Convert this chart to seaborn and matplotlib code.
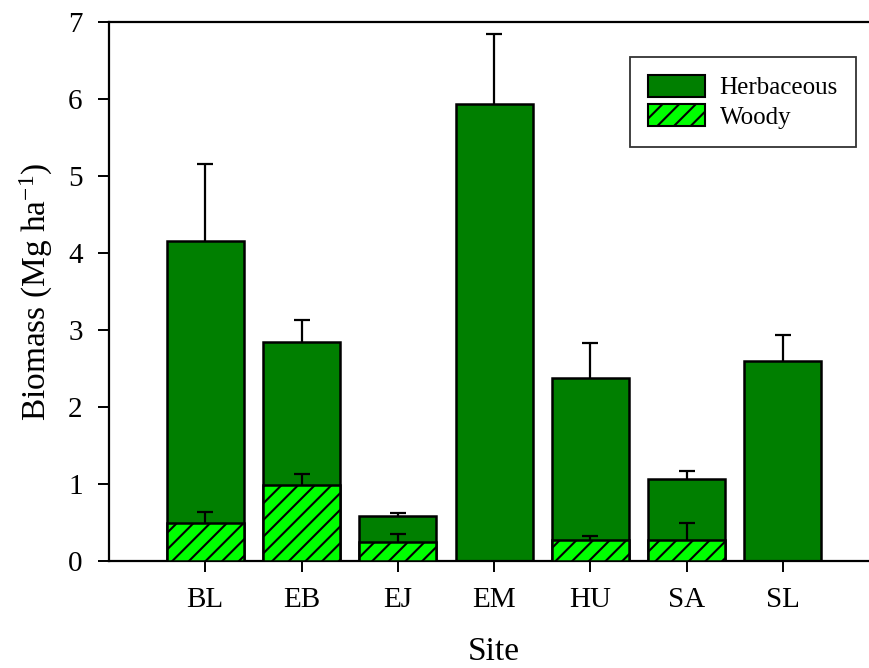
import numpy as np
import pandas as pd
import matplotlib
matplotlib.use("Agg")
import matplotlib.pyplot as plt
from matplotlib.patches import Patch
import seaborn as sns

sites = ["BL", "EB", "EJ", "EM", "HU", "SA", "SL"]
herbaceous = [3.66, 1.86, 0.33, 5.93, 2.11, 0.80, 2.60]
herbaceous_se = [0.99, 0.28, 0.04, 0.92, 0.45, 0.10, 0.34]
woody = [0.50, 0.99, 0.25, 0.0, 0.27, 0.27, 0.0]
woody_se = [0.14, 0.14, 0.10, 0.0, 0.05, 0.22, 0.0]
y_ticks = [0, 1, 2, 3, 4, 5, 6, 7]

sns.set_theme(style="ticks")
plt.rcParams["font.family"] = ["Liberation Serif", "DejaVu Serif"]
plt.rcParams["mathtext.fontset"] = "custom"
plt.rcParams["mathtext.rm"] = "Liberation Serif"
plt.rcParams["mathtext.it"] = "Liberation Serif:italic"
plt.rcParams["mathtext.bf"] = "Liberation Serif:bold"
plt.rcParams["text.color"] = "black"
plt.rcParams["axes.labelcolor"] = "black"
plt.rcParams["xtick.color"] = "black"
plt.rcParams["ytick.color"] = "black"
plt.rcParams["hatch.linewidth"] = 1.5
plt.rcParams["hatch.color"] = "black"

DARK = "#007f00"
LIGHT = "#00ff00"

df = pd.DataFrame({
    "Site": sites,
    "total": np.add(herbaceous, woody),
    "total_se": herbaceous_se,
    "woody": woody,
    "woody_se": woody_se,
})


def upper_errorbar(ax, x, y, err, z):
    """Draw upper-only error bars (stem plus a single top cap)."""
    _, caps, _ = ax.errorbar(x, y, yerr=[np.zeros(len(x)), err],
                             fmt="none", ecolor="black", elinewidth=1.6,
                             capsize=6, capthick=1.6, zorder=z)
    caps[0].remove()


fig = plt.figure(figsize=(8.70, 6.68), dpi=100)
ax = fig.add_axes([109 / 870, 107 / 668, 770 / 870, 539 / 668])

# herbaceous sits on top of woody: draw the full stack first
sns.barplot(data=df, x="Site", y="total", color=DARK, saturation=1,
            width=0.8, edgecolor="black", linewidth=1.8, ax=ax, errorbar=None,
            zorder=2)
upper_errorbar(ax, np.arange(len(sites)), df["total"], df["total_se"], 1)

n_before = len(ax.patches)
sns.barplot(data=df, x="Site", y="woody", color=LIGHT, saturation=1,
            width=0.8, edgecolor="black", linewidth=1.8, ax=ax, errorbar=None,
            hatch="//")
for p in ax.patches[n_before:]:
    p.set_zorder(4)
has_woody = df["woody"].to_numpy() > 0
idx = np.arange(len(sites))[has_woody]
upper_errorbar(ax, idx, df["woody"][has_woody], df["woody_se"][has_woody], 3)

ax.set_xlim(-1, 7)
ax.set_ylim(0, 7)
ax.set_yticks(y_ticks)
ax.set_xlabel("Site", fontsize=24, labelpad=17)
ax.set_ylabel("Biomass (Mg ha$^{-1}$)", fontsize=24, labelpad=9)
ax.tick_params(axis="both", labelsize=21, direction="out", length=8,
               width=1.4, color="black", pad=11)
for s in ax.spines.values():
    s.set_linewidth(1.6)
    s.set_color("black")

handles = [
    Patch(facecolor=DARK, edgecolor="black", linewidth=1.5, label="Herbaceous"),
    Patch(facecolor=LIGHT, edgecolor="black", linewidth=1.5, hatch="//", label="Woody"),
]
leg = ax.legend(handles=handles, loc="upper left",
                bbox_to_anchor=(630 / 870, 1 - 57 / 668),
                bbox_transform=fig.transFigure, fontsize=18, frameon=True,
                fancybox=False, handlelength=2.3, handleheight=0.95,
                handletextpad=0.56, labelspacing=0.2, borderpad=0.72,
                borderaxespad=0)
leg.get_frame().set_edgecolor("black")
leg.get_frame().set_linewidth(1.3)

fig.savefig("out.png", dpi=100)
